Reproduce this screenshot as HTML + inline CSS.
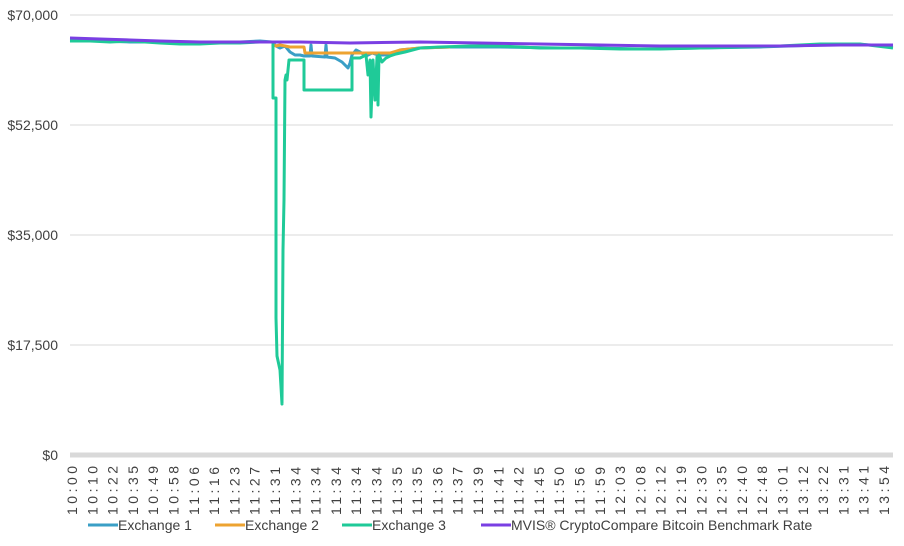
<!DOCTYPE html>
<html><head><style>
body{margin:0;background:#fff;}
svg{display:block;font-family:"Liberation Sans",sans-serif;}
</style></head><body>
<svg width="904" height="546" viewBox="0 0 904 546">
<rect width="904" height="546" fill="#fff"/>
<g stroke="#d9d9d9" stroke-width="1">
<line x1="70" y1="15" x2="893" y2="15"/>
<line x1="70" y1="125" x2="893" y2="125"/>
<line x1="70" y1="235" x2="893" y2="235"/>
<line x1="70" y1="345" x2="893" y2="345"/>
</g>
<line x1="70" y1="455" x2="893" y2="455" stroke="#d9d9d9" stroke-width="5"/>
<g font-size="14" fill="#404040" text-anchor="end">
<text x="58" y="20">$70,000</text>
<text x="58" y="130">$52,500</text>
<text x="58" y="240">$35,000</text>
<text x="58" y="350">$17,500</text>
<text x="58" y="460">$0</text>
</g>
<g fill="none" stroke-width="3" stroke-linejoin="round">
<polyline stroke="#3a9fc6" points="70,40 100,41 130,42 160,42 200,43 240,42 260,41 272,42 276,46 280,48 285,46 290,52 295,55 300,55 304,56 310,56 311,45 312,56 325,57 326,45 327,57 335,58 342,62 348,68 350,63 352,55 356,50 360,52 366,56 372,53 378,55 384,55 390,54 400,50 420,48 450,47 500,47 560,48 600,48 640,49 700,48 760,47 820,45 850,44 893,46"/>
<polyline stroke="#eda331" points="272,44 276,46 280,45 290,47 304,47 305,53 340,53 390,53 400,50 420,48 450,47"/>
<polyline stroke="#1fca98" points="70,41 90,41 110,42 130,41 160,43 180,44 200,44 220,43 240,43 260,42 273,42 273,98 276,98 276,318 277,356 280,370 282,404 283,250 284,200 285,80 286,75 287,80 289,60 304,60 304,90 352,90 352,58 360,58 366,55 368,75 370,60 371,117 373,60 375,100 377,57 378,105 379,55 382,62 386,58 390,56 396,54 405,52 420,48 440,47 470,46 500,46 540,48 580,48 620,49 660,49 700,48 740,47 780,46 820,44 860,44 893,48"/>
<polyline stroke="#7a3fe3" points="70,38 100,39 130,40 160,41 200,42 240,42 270,42 300,42 350,43 420,42 480,43 540,44 600,45 660,46 720,46 780,46 840,45 893,45"/>
</g>
<g font-size="14" fill="#404040" letter-spacing="3.5">
<text transform="translate(77,515) rotate(-90)">10:00</text>
<text transform="translate(97.3,515) rotate(-90)">10:10</text>
<text transform="translate(117.6,515) rotate(-90)">10:22</text>
<text transform="translate(137.9,515) rotate(-90)">10:35</text>
<text transform="translate(158.2,515) rotate(-90)">10:49</text>
<text transform="translate(178.5,515) rotate(-90)">10:58</text>
<text transform="translate(198.8,515) rotate(-90)">11:06</text>
<text transform="translate(219.1,515) rotate(-90)">11:16</text>
<text transform="translate(239.4,515) rotate(-90)">11:23</text>
<text transform="translate(259.7,515) rotate(-90)">11:27</text>
<text transform="translate(280,515) rotate(-90)">11:31</text>
<text transform="translate(300.3,515) rotate(-90)">11:34</text>
<text transform="translate(320.6,515) rotate(-90)">11:34</text>
<text transform="translate(340.9,515) rotate(-90)">11:34</text>
<text transform="translate(361.2,515) rotate(-90)">11:34</text>
<text transform="translate(381.5,515) rotate(-90)">11:34</text>
<text transform="translate(401.8,515) rotate(-90)">11:35</text>
<text transform="translate(422.1,515) rotate(-90)">11:35</text>
<text transform="translate(442.4,515) rotate(-90)">11:36</text>
<text transform="translate(462.7,515) rotate(-90)">11:37</text>
<text transform="translate(483,515) rotate(-90)">11:39</text>
<text transform="translate(503.3,515) rotate(-90)">11:41</text>
<text transform="translate(523.6,515) rotate(-90)">11:42</text>
<text transform="translate(543.9,515) rotate(-90)">11:45</text>
<text transform="translate(564.2,515) rotate(-90)">11:50</text>
<text transform="translate(584.5,515) rotate(-90)">11:56</text>
<text transform="translate(604.8,515) rotate(-90)">11:59</text>
<text transform="translate(625.1,515) rotate(-90)">12:03</text>
<text transform="translate(645.4,515) rotate(-90)">12:08</text>
<text transform="translate(665.7,515) rotate(-90)">12:12</text>
<text transform="translate(686,515) rotate(-90)">12:19</text>
<text transform="translate(706.3,515) rotate(-90)">12:30</text>
<text transform="translate(726.6,515) rotate(-90)">12:35</text>
<text transform="translate(746.9,515) rotate(-90)">12:40</text>
<text transform="translate(767.2,515) rotate(-90)">12:48</text>
<text transform="translate(787.5,515) rotate(-90)">13:01</text>
<text transform="translate(807.8,515) rotate(-90)">13:12</text>
<text transform="translate(828.1,515) rotate(-90)">13:22</text>
<text transform="translate(848.4,515) rotate(-90)">13:31</text>
<text transform="translate(868.7,515) rotate(-90)">13:41</text>
<text transform="translate(889,515) rotate(-90)">13:54</text>
</g>
<g stroke-width="3">
<line x1="88" y1="525" x2="118" y2="525" stroke="#3a9fc6"/>
<line x1="215" y1="525" x2="245" y2="525" stroke="#eda331"/>
<line x1="342" y1="525" x2="372" y2="525" stroke="#1fca98"/>
<line x1="481" y1="525" x2="511" y2="525" stroke="#7a3fe3"/>
</g>
<g font-size="14" fill="#404040">
<text x="118" y="530">Exchange 1</text>
<text x="245" y="530">Exchange 2</text>
<text x="372" y="530">Exchange 3</text>
<text x="511" y="530">MVIS® CryptoCompare Bitcoin Benchmark Rate</text>
</g>
</svg>
</body></html>
